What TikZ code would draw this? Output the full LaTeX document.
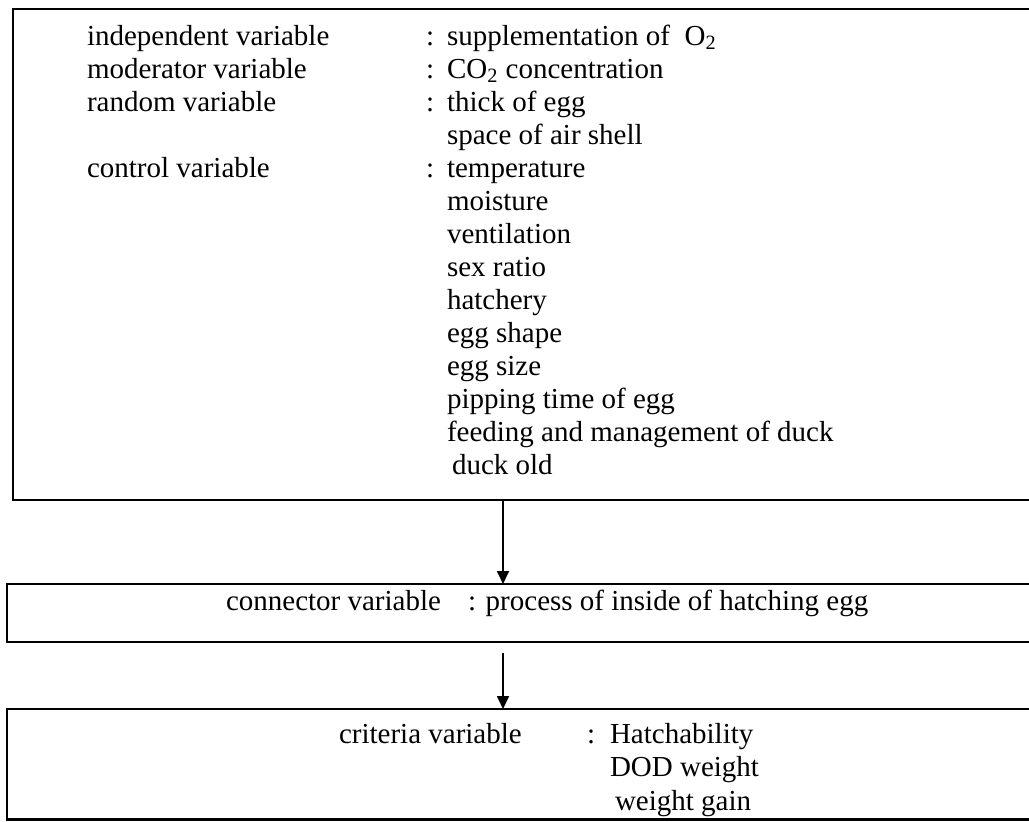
\documentclass[tikz,border=0pt]{standalone}
\usepackage{fontspec}
\setmainfont{Liberation Serif}
\usetikzlibrary{arrows.meta}
\tikzset{
  frame/.style={draw=black, line width=1.25pt, rectangle, inner sep=0pt, outer sep=0pt, anchor=north west},
  txt/.style={anchor=base west, inner sep=0pt, outer sep=0pt, font=\fontsize{14.5}{17}\selectfont},
  flow/.style={draw=black, line width=0.85pt, -{Triangle[length=6.5pt,width=6pt]}}
}
\begin{document}
\begin{tikzpicture}[x=0.5pt,y=-0.5pt]
\useasboundingbox (0,0) rectangle (1029,821);
\clip (0,0) rectangle (1029,821);
% boxes
\node[frame, minimum width=513.5pt, minimum height=245.5pt] (box1) at (13,9) {};
\node[frame, minimum width=516.5pt, minimum height=29pt] (box2) at (7,584) {};
\node[frame, minimum width=516.5pt, minimum height=55.25pt] (box3) at (7,709) {};
% top box labels
\node[txt] (l1) at (87,45) {independent variable};
\node[txt] (l2) at (87,78) {moderator variable};
\node[txt] (l3) at (87,111) {random variable};
\node[txt] (l5) at (87,177) {control variable};
\node[txt] (c1) at (426,45) {:};
\node[txt] (c2) at (426,78) {:};
\node[txt] (c3) at (426,111) {:};
\node[txt] (c5) at (426,177) {:};
\node[txt] (v1) at (447,45) {supplementation of\ \ O\textsubscript{2}};
\node[txt] (v2) at (447,78) {CO\textsubscript{2} concentration};
\node[txt] (v3) at (447,111) {thick of egg};
\node[txt] (v4) at (447,144) {space of air shell};
\node[txt] (v5) at (447,177) {temperature};
\node[txt] (v6) at (447,210) {moisture};
\node[txt] (v7) at (447,243) {ventilation};
\node[txt] (v8) at (447,276) {sex ratio};
\node[txt] (v9) at (447,309) {hatchery};
\node[txt] (v10) at (447,342) {egg shape};
\node[txt] (v11) at (447,375) {egg size};
\node[txt] (v12) at (447,408) {pipping time of egg};
\node[txt] (v13) at (447,441) {feeding and management of duck};
\node[txt] (v14) at (452,474) {duck old};
% connector box
\node[txt] (cl) at (226,610) {connector variable};
\node[txt] (cv) at (468,610) {: process of inside of hatching egg};
% criteria box
\node[txt] (kl) at (339,743) {criteria variable};
\node[txt] (kc) at (587,743) {:};
\node[txt] (k1) at (610,743) {Hatchability};
\node[txt] (k2) at (610,776.5) {DOD weight};
\node[txt] (k3) at (615,810) {weight gain};
% arrows
\coordinate (a1s) at (503,500);
\coordinate (a2s) at (503,653);
\draw[flow] (a1s) -- (a1s |- box2.north);
\draw[flow] (a2s) -- (a2s |- box3.north);
\end{tikzpicture}
\end{document}
